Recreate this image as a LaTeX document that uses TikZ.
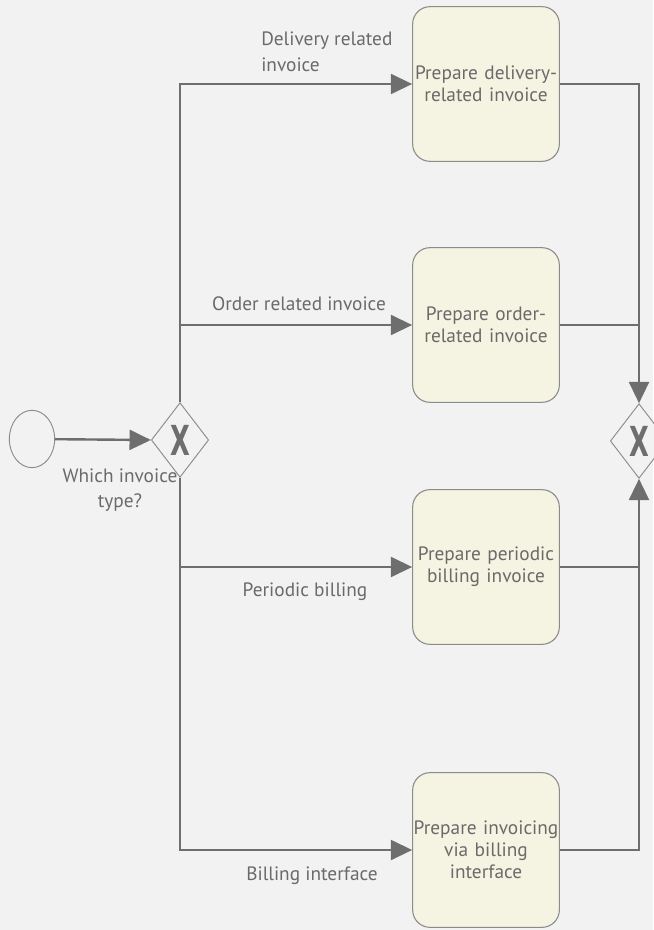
\documentclass[tikz,border=0pt]{standalone}
\usepackage{fontspec}
\setmainfont{PT Sans}
\newfontfamily\gwfont{DejaVu Sans}
\usetikzlibrary{arrows.meta,shapes.geometric}
\definecolor{bgcol}{HTML}{F2F2F2}
\definecolor{taskfill}{HTML}{F5F4E2}
\definecolor{linecol}{HTML}{6E6E6E}
\definecolor{txtcol}{HTML}{6A6A6A}
\newcommand{\gwmark}{\scalebox{0.62}[1]{X}}
\tikzset{
  task/.style={draw=linecol!80,line width=0.8pt,fill=taskfill,rounded corners=13pt,
    minimum width=110pt,minimum height=116pt,text width=110pt,align=center,
    text=txtcol,font=\fontsize{14.5}{16.5}\selectfont,inner sep=0pt},
  gw/.style={diamond,draw=linecol!80,line width=0.7pt,fill=bgcol,minimum width=43pt,
    minimum height=56pt,inner sep=0pt,text=linecol,font=\gwfont\bfseries\fontsize{31}{31}\selectfont},
  startev/.style={ellipse,draw=linecol!80,line width=0.7pt,fill=bgcol,minimum width=34pt,minimum height=43pt},
  flow/.style={draw=linecol,line width=1.8pt,-{Triangle[length=16pt,width=15pt]}},
  seq/.style={draw=linecol,line width=1.8pt},
  lbl/.style={text=txtcol,font=\fontsize{14.5}{19}\selectfont,align=center,inner sep=0pt}
}
\begin{document}
\begin{tikzpicture}[x=0.75pt,y=-0.75pt]
\fill[bgcol] (0,0) rectangle (653,930);
\useasboundingbox (0,0) rectangle (653,930);
% events and gateways
\node[startev] (start) at (32,439) {};
\node[gw] (split) at (180,440) {\gwmark};
\node[gw] (join) at (639,441) {\gwmark};
% tasks
\node[task] (t1) at (486,84) {Prepare delivery-\\related invoice};
\node[task] (t2) at (486,325) {Prepare order-\\related invoice};
\node[task] (t3) at (486,567) {Prepare periodic\\billing invoice};
\node[task] (t4) at (486,850) {Prepare invoicing\\via billing\\interface};
% flows
\draw[flow] (start) -- (split.west);
\draw[flow] (split.north) |- (t1.west);
\draw[flow] (split.north |- t2.west) -- (t2.west);
\draw[flow] (split.south |- t3.west) -- (t3.west);
\draw[flow] (split.south) |- (t4.west);
\draw[flow] (t1.east) -| (join.north);
\draw[seq] (t2.east) -- (t2.east -| join.north);
\draw[seq] (t3.east) -- (t3.east -| join.south);
\draw[flow] (t4.east) -| (join.south);
% labels
\node[lbl,anchor=north west,align=left] (l1) at (261,32) {Delivery related\\invoice};
\node[lbl] (l2) at (299,304) {Order related invoice};
\node[lbl] (l3) at (305,592) {Periodic billing};
\node[lbl] (l4) at (312,876) {Billing interface};
\node[lbl] (l5) at (120,490) {Which invoice\\type?};
\end{tikzpicture}
\end{document}
